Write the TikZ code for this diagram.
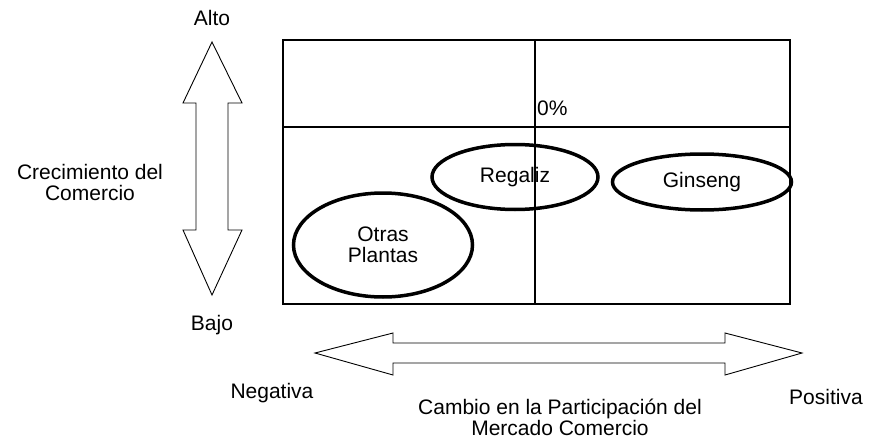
\documentclass[tikz,border=0pt]{standalone}
\usepackage{fontspec}
\setmainfont{Liberation Sans}
\usetikzlibrary{shapes.geometric}

\begin{document}
\begin{tikzpicture}[x=1pt,y=-1pt,
  txt/.style={font=\fontsize{21}{21}\selectfont, align=center, inner sep=0pt},
  plant/.style={txt, ellipse, draw, line width=3.5pt},
  bigarrow/.style={draw, line width=0.9pt, fill=white, line join=miter}]
  \useasboundingbox (0,0) rectangle (871,439);
  % quadrants
  \draw[line width=1.2pt] (283,40) rectangle (790,304);
  \draw[line width=1.2pt] (283,127) -- (790,127);
  \draw[line width=1.2pt] (535,40) -- (535,304);
  \node[txt, anchor=west] (cero) at (537,108) {0\%};
  % plants
  \node[plant, minimum width=166pt, minimum height=65pt] (regaliz) at (515,177) {Regaliz};
  \node[plant, minimum width=179pt, minimum height=56pt] (ginseng) at (702,182) {Ginseng};
  \node[plant, minimum width=179pt, minimum height=104pt] (otras) at (383,245) {Otras\\Plantas};
  % vertical arrow
  \draw[bigarrow] (212,42) -- (242,103) -- (228,103) -- (228,230) -- (242,230)
    -- (212,295) -- (183,230) -- (196,230) -- (196,103) -- (183,103) -- cycle;
  \node[txt] (alto) at (212,18) {Alto};
  \node[txt] (bajo) at (212,325) {Bajo};
  \node[txt] (crec) at (90,182) {Crecimiento del\\Comercio};
  % horizontal arrow
  \draw[bigarrow] (315,353) -- (393,333) -- (393,343) -- (725,343) -- (725,333)
    -- (802,353) -- (725,375) -- (725,363) -- (393,363) -- (393,375) -- cycle;
  \node[txt] (neg) at (272,393) {Negativa};
  \node[txt] (pos) at (826,397) {Positiva};
  \node[txt] (cambio) at (560,417) {Cambio en la Participación del\\Mercado Comercio};
\end{tikzpicture}
\end{document}
